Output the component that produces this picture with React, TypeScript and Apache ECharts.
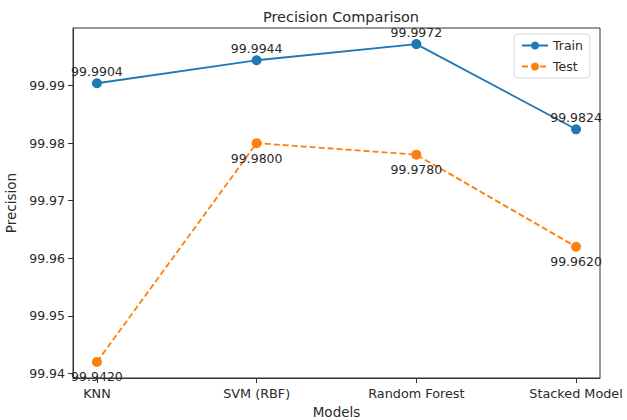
import React, { useEffect, useRef } from "react";
import * as echarts from "echarts";

const models = ["KNN", "SVM (RBF)", "Random Forest", "Stacked Model"];
const trainPrecision = [99.9904, 99.9944, 99.9972, 99.9824];
const testPrecision = [99.942, 99.98, 99.978, 99.962];
const yTicks = [99.94, 99.95, 99.96, 99.97, 99.98, 99.99];
const xTicks = [0, 1, 2, 3];

const FONT = "DejaVu Sans";
const TEXT = "#2a2a2a";
const TRAIN_COLOR = "#1f77b4";
const TEST_COLOR = "#ff7f0e";

export default function App() {
  const ref = useRef<HTMLDivElement>(null);

  useEffect(() => {
    if (!ref.current) return;
    const chart = echarts.init(ref.current, null, { renderer: "svg" });

    const pts = (vals: number[]) => vals.map((v, i) => [i, v]);

    chart.setOption({
      animation: false,
      backgroundColor: "#ffffff",
      textStyle: { fontFamily: FONT },
      title: {
        text: "Precision Comparison",
        left: 336,
        top: 4,
        textAlign: "center",
        textStyle: { fontFamily: FONT, fontSize: 14.5, fontWeight: "normal", color: TEXT },
      },
      legend: {
        right: 37,
        top: 34,
        orient: "vertical",
        data: ["Train", "Test"],
        itemWidth: 26,
        itemHeight: 10,
        itemGap: 8,
        padding: [5, 7, 5, 7],
        backgroundColor: "#ffffff",
        borderColor: "#d8d8d8",
        borderWidth: 1,
        borderRadius: 3,
        textStyle: { fontFamily: FONT, fontSize: 12.5, color: TEXT },
      },
      grid: {
        left: 73,
        right: 27,
        top: 28,
        bottom: 42,
        containLabel: false,
        outerBoundsMode: "none",
        show: true,
        borderColor: "#333",
        borderWidth: 1,
        backgroundColor: "transparent",
      },
      xAxis: {
        type: "value",
        min: -0.15,
        max: 3.15,
        name: "Models",
        nameLocation: "middle",
        nameGap: 25,
        nameTextStyle: { fontFamily: FONT, fontSize: 13.5, color: TEXT },
        axisLine: { show: true, onZero: false, lineStyle: { color: "#333" } },
        splitLine: { show: false },
        axisTick: { show: true, customValues: xTicks, length: 5, lineStyle: { color: "#333" } },
        axisLabel: {
          customValues: xTicks,
          margin: 9,
          fontFamily: FONT,
          fontSize: 12.8,
          color: TEXT,
          formatter: (v: number) => models[Math.round(v)] ?? "",
        },
      },
      yAxis: {
        type: "value",
        min: 99.9392,
        max: 100.0,
        name: "Precision",
        nameLocation: "middle",
        nameGap: 46,
        nameRotate: 90,
        nameTextStyle: { fontFamily: FONT, fontSize: 13.5, color: TEXT },
        axisLine: { show: true, onZero: false, lineStyle: { color: "#333" } },
        splitLine: { show: false },
        axisTick: { show: true, customValues: yTicks, length: 5, lineStyle: { color: "#333" } },
        axisLabel: {
          customValues: yTicks,
          margin: 8,
          fontFamily: FONT,
          fontSize: 12.5,
          color: TEXT,
          formatter: (v: number) => v.toFixed(2),
        },
      },
      series: [
        {
          name: "Train",
          type: "line",
          data: pts(trainPrecision),
          color: TRAIN_COLOR,
          symbol: "circle",
          symbolSize: 10,
          lineStyle: { width: 1.8, color: TRAIN_COLOR },
          itemStyle: { color: TRAIN_COLOR },
          label: {
            show: true,
            position: "inside",
            offset: [0, -12],
            fontFamily: FONT,
            fontSize: 12.5,
            color: TEXT,
            formatter: (p: any) => p.value[1].toFixed(4),
          },
          z: 3,
        },
        {
          name: "Test",
          type: "line",
          data: pts(testPrecision),
          color: TEST_COLOR,
          symbol: "circle",
          symbolSize: 10,
          lineStyle: { width: 1.8, color: TEST_COLOR, type: [6, 3] },
          itemStyle: { color: TEST_COLOR },
          label: {
            show: true,
            position: "inside",
            offset: [0, 15],
            fontFamily: FONT,
            fontSize: 12.5,
            color: TEXT,
            formatter: (p: any) => p.value[1].toFixed(4),
          },
          z: 3,
        },
      ],
    });

    return () => chart.dispose();
  }, []);

  return (
    <div
      ref={ref}
      style={{ position: "fixed", left: 0, top: 0, width: 627, height: 420, background: "#fff" }}
    />
  );
}
